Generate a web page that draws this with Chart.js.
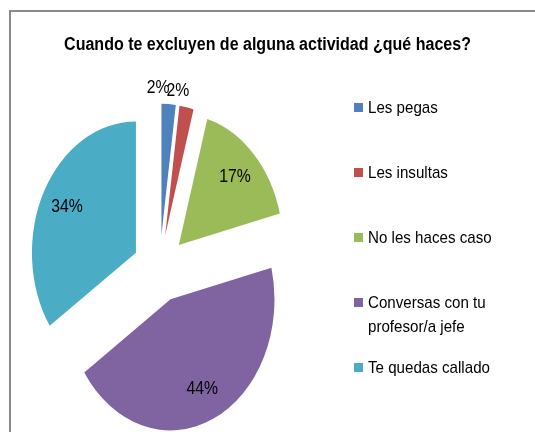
<!DOCTYPE html>
<html>
<head>
<meta charset="utf-8">
<script src="https://cdn.jsdelivr.net/npm/chart.js@4/dist/chart.umd.min.js"></script>
<style>
  html, body { margin: 0; padding: 0; background: #fff; overflow: hidden; }
  #wrap { position: relative; width: 535px; height: 432px; overflow: hidden; }
  #frame { position: absolute; left: 9px; top: 10px; width: 600px; height: 500px; border: 2px solid #898989; }
  #chart { position: absolute; left: 0; top: 0; }
  #title { position: absolute; left: 0; width: 535px; top: 34px; text-align: center;
    font: bold 18px "Liberation Sans", Arial, sans-serif; color: #000; white-space: nowrap;
    transform: scaleX(0.89); transform-origin: 267.5px 0; }
  .item { position: absolute; left: 354px; font: 17px/23.4px "Liberation Sans", Arial, sans-serif; color: #000; }
  .item i { position: absolute; left: 0; width: 9px; height: 9px; }
  .item span { position: absolute; left: 14px; width: 152px; transform: scaleX(0.89); transform-origin: 0 0; }
</style>
</head>
<body>
<div id="wrap">
  <div id="frame"></div>
  <canvas id="chart" width="535" height="432"></canvas>
  <div id="title">Cuando te excluyen de alguna actividad ¿qué haces?</div>
  <div id="legend"></div>
</div>
<script>
const labels = ["Les pegas", "Les insultas", "No les haces caso", "Conversas con tu profesor/a jefe", "Te quedas callado"];
const shares = [2.2, 2.2, 16.7, 44.4, 34.4];
const colors = ["#4F81BD", "#C0504D", "#9BBB59", "#8064A2", "#4BACC6"];

// pie looks stretched vertically in the original, and every slice is pulled out
const stretchY = 1.26;
const explode = 26.8;
const pieRadius = 104;
// text in the original is condensed, no narrow font here so squeeze it
const squeeze = 0.83;

const total = shares.reduce((a, b) => a + b, 0);

const explodedPie = {
  id: "explodedPie",
  beforeDatasetsDraw(chart) {
    const ctx = chart.ctx;
    chart.getDatasetMeta(0).data.forEach(arc => {
      const mid = (arc.startAngle + arc.endAngle) / 2;
      ctx.save();
      ctx.translate(arc.x, arc.y);
      ctx.scale(1, stretchY);
      ctx.translate(Math.cos(mid) * explode - arc.x, Math.sin(mid) * explode - arc.y);
      arc.draw(ctx);
      ctx.restore();
    });
    return false;
  },
  afterDraw(chart) {
    const ctx = chart.ctx;
    chart.getDatasetMeta(0).data.forEach((arc, i) => {
      const mid = (arc.startAngle + arc.endAngle) / 2;
      const pct = Math.round(shares[i] / total * 100);
      const outside = pct < 5;
      const dist = outside ? arc.outerRadius + 13 : arc.outerRadius * 0.75;
      const x = arc.x + Math.cos(mid) * (explode + dist);
      const y = arc.y + Math.sin(mid) * (explode + dist) * stretchY;
      ctx.save();
      ctx.font = '19px "Liberation Sans", Arial, sans-serif';
      ctx.fillStyle = "#000";
      ctx.textBaseline = "middle";
      ctx.textAlign = outside ? "right" : "center";
      ctx.translate(x, y);
      ctx.scale(squeeze, 1);
      ctx.fillText(pct + "%", 0, 0);
      ctx.restore();
    });
  }
};

new Chart(document.getElementById("chart").getContext("2d"), {
  type: "pie",
  data: {
    labels: labels,
    datasets: [{
      data: shares,
      backgroundColor: colors,
      borderWidth: 0,
      radius: pieRadius
    }]
  },
  options: {
    responsive: false,
    animation: false,
    layout: { padding: { left: 0, right: 535 - 319.2, top: 105, bottom: 0 } },
    plugins: { legend: { display: false }, tooltip: { enabled: false } }
  },
  plugins: [explodedPie]
});

// legend, one entry every ~65px like the original
const legend = document.getElementById("legend");
labels.forEach((label, i) => {
  const cy = 107.5 + i * 65.1;
  const item = document.createElement("div");
  item.className = "item";
  item.style.top = (cy - 11.7) + "px";
  item.innerHTML = '<i style="top:7px;background:' + colors[i] + '"></i><span>' + label + "</span>";
  legend.appendChild(item);
});
</script>
</body>
</html>
